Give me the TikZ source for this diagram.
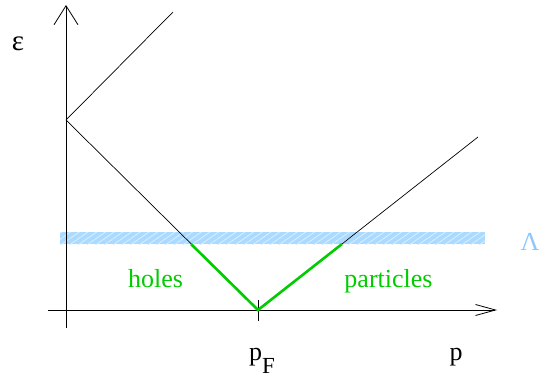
\documentclass[tikz,border=0pt]{standalone}
\usepackage{fontspec}
\setmainfont{Liberation Serif}
\usetikzlibrary{arrows.meta,patterns.meta}
\definecolor{bandblue}{RGB}{170,218,255}
\definecolor{hatchblue}{RGB}{215,238,255}
\definecolor{lamblue}{RGB}{140,200,255}
\definecolor{grn}{RGB}{0,204,0}
\begin{document}
\begin{tikzpicture}[x=1pt,y=-1pt,
  axis/.style={line width=0.8pt},
  curve/.style={line width=0.7pt},
  green seg/.style={grn,line width=2.6pt},
  lbl/.style={font=\fontsize{26}{30}\selectfont, inner sep=0pt, anchor=base}]
\useasboundingbox (0,0) rectangle (545,379);
% band
\coordinate (bl) at (60,232);
\coordinate (tr) at (485,244);
\fill[bandblue] (bl) rectangle (tr);
\fill[pattern={Lines[angle=35,distance=5pt,line width=0.9pt]}, pattern color=hatchblue] (bl) rectangle (tr);
% axes
\coordinate (ybot) at (66,328);
\coordinate (ytop) at (66,5);
\coordinate (xl) at (48,310);
\coordinate (xr) at (497,310);
\draw[axis,-{Straight Barb[length=19pt,width=24pt,line width=0.8pt]}] (ybot) -- (ytop);
\draw[axis,-{Straight Barb[length=20pt,width=11pt,line width=0.8pt]}] (xl) -- (xr);
% tick
\coordinate (t1) at (258,300);
\coordinate (t2) at (258,321);
\draw[axis] (t1) -- (t2);
% dispersion lines
\coordinate (B) at (173,12);
\coordinate (A) at (66,120);
\coordinate (F) at (258,310);
\coordinate (C) at (478,137);
\draw[curve] (B) -- (A) -- (F) -- (C);
\coordinate (G1) at (191,244);
\coordinate (G2) at (342,244);
\draw[green seg, line join=miter] (G1) -- (F) -- (G2);
% labels
\node[lbl] (eps) at (18,51) {\fontsize{29}{32}\selectfont ε};
\node[lbl,grn] (holes) at (155.5,287) {holes};
\node[lbl,grn] (parts) at (388.5,287) {particles};
\node[lbl,lamblue] (lam) at (530,250) {Λ};
\node[lbl] (pF) at (262,360) {p\raisebox{-13pt}{\fontsize{23}{26}\selectfont F}};
\node[lbl] (p) at (456,360) {p};
\end{tikzpicture}
\end{document}
